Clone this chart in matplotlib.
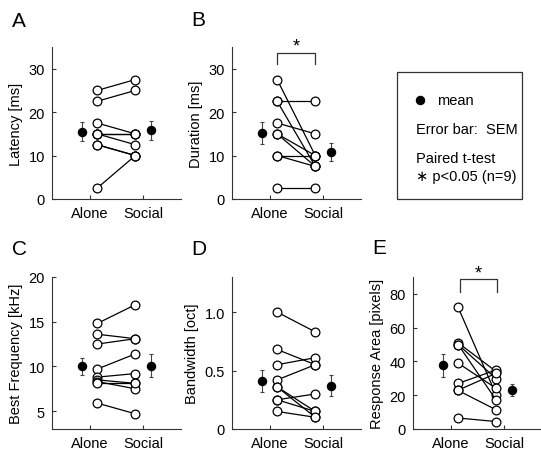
import matplotlib
matplotlib.use("Agg")
import matplotlib.pyplot as plt

plt.rcParams['font.family'] = ['Liberation Sans', 'DejaVu Sans']
plt.rcParams['font.size'] = 10.5

# paired values per unit (alone, social)
lat_alone = [25, 22.5, 17.5, 15, 15, 15, 12.5, 12.5, 2.5]
lat_social = [27.5, 25, 15, 15, 15, 12.5, 10, 10, 10]
lat_mean = [15.5, 15.8]
lat_sem = [2.2, 2.1]

dur_alone = [27.5, 22.5, 22.5, 17.5, 15, 15, 10, 10, 2.5]
dur_social = [10, 22.5, 7.5, 15, 7.5, 10, 10, 7.5, 2.5]
dur_mean = [15.2, 10.8]
dur_sem = [2.6, 2.0]

bf_alone = [14.8, 13.6, 12.5, 9.7, 8.8, 8.5, 8.3, 8.1, 5.9]
bf_social = [16.9, 13.1, 13.1, 11.4, 9.2, 8.1, 7.5, 8.1, 4.7]
bf_mean = [10.0, 10.1]
bf_sem = [0.95, 1.3]

bw_alone = [1.0, 0.68, 0.55, 0.42, 0.36, 0.36, 0.25, 0.25, 0.15]
bw_social = [0.83, 0.55, 0.61, 0.55, 0.15, 0.10, 0.30, 0.15, 0.10]
bw_mean = [0.41, 0.37]
bw_sem = [0.095, 0.09]

ra_alone = [72, 51, 50, 50, 39, 27, 23, 22.8, 6.5]
ra_social = [20, 34, 29.7, 17, 24, 35, 33, 11.3, 4.4]
ra_mean = [37.6, 23.0]
ra_sem = [7.0, 3.4]

groups = ["Alone", "Social"]

W, H = 541, 452
fig = plt.figure(figsize=(W / 100, H / 100), dpi=100)

def make_ax(left, top, bottom):
    return fig.add_axes([left / W, (H - bottom) / H, 129 / W, (bottom - top) / H])

def panel(ax, alone, social, mean, sem, ylim, yticks, ylabel, yticklabels=None):
    for a, s in zip(alone, social):
        ax.plot([1.14, 1.85], [a, s], color='black', lw=0.9,
                marker='o', ms=6.3, mfc='white', mec='black', mew=0.9, zorder=3)
    ax.errorbar([0.85, 2.15], mean, yerr=sem, fmt='o', color='black', ms=5.8,
                ecolor='#444444', elinewidth=0.8, capsize=1.5, capthick=0.8, zorder=4)
    ax.set_xlim(0.3, 2.7)
    ax.set_ylim(*ylim)
    ax.set_xticks([1, 2])
    ax.set_xticklabels(groups)
    ax.set_yticks(yticks)
    if yticklabels is not None:
        ax.set_yticklabels(yticklabels)
    ax.set_ylabel(ylabel)
    for side in ['top', 'right']:
        ax.spines[side].set_visible(False)
    for side in ['left', 'bottom']:
        ax.spines[side].set_color('#333333')
        ax.spines[side].set_linewidth(0.8)
    ax.tick_params(direction='in', length=3, width=0.8, color='#333333', pad=5)

def bracket(ax, x0, x1, ytop, ybot, ystar):
    ax.plot([x0, x0, x1, x1], [ybot, ytop, ytop, ybot], color='#333333', lw=0.9, clip_on=False)
    ax.text((x0 + x1) / 2, ystar, "*", ha='center', va='center', fontsize=13, clip_on=False)

axA = make_ax(52, 48, 200)
panel(axA, lat_alone, lat_social, lat_mean, lat_sem, (0, 35), [0, 10, 20, 30], "Latency [ms]")

axB = make_ax(232, 48, 200)
panel(axB, dur_alone, dur_social, dur_mean, dur_sem, (0, 35), [0, 10, 20, 30], "Duration [ms]")
bracket(axB, 1.14, 1.85, 33.7, 31.0, 35.2)

axC = make_ax(52, 278, 430)
panel(axC, bf_alone, bf_social, bf_mean, bf_sem, (3, 20), [5, 10, 15, 20], "Best Frequency [kHz]")

axD = make_ax(232, 278, 430)
panel(axD, bw_alone, bw_social, bw_mean, bw_sem, (0, 1.3), [0, 0.5, 1.0], "Bandwidth [oct]",
      ["0", "0.5", "1.0"])

axE = make_ax(413, 278, 430)
panel(axE, ra_alone, ra_social, ra_mean, ra_sem, (0, 90), [0, 20, 40, 60, 80], "Response Area [pixels]")
bracket(axE, 1.17, 1.86, 88.7, 81.4, 92.5)

# panel letters
for lab, x, y in [("A", 12, 12), ("B", 191, 11), ("C", 12, 240), ("D", 191, 240), ("E", 372, 239)]:
    fig.text(x / W, 1 - y / H, lab, fontsize=15, va='top', ha='left')

# legend box
box = plt.Rectangle((397 / W, 1 - 200 / H), 125 / W, 127 / H, transform=fig.transFigure,
                    fill=False, edgecolor='#333333', lw=0.9)
fig.add_artist(box)
fig.add_artist(plt.Line2D([420 / W], [1 - 101 / H], transform=fig.transFigure,
                          marker='o', ms=5.8, color='black', ls='none'))
fig.text(437 / W, 1 - 101 / H, "mean", fontsize=10.5, va='center')
fig.text(416 / W, 1 - 130 / H, "Error bar:  SEM", fontsize=10.5, va='center')
fig.text(416 / W, 1 - 159 / H, "Paired t-test", fontsize=10.5, va='center')
fig.text(416 / W, 1 - 177 / H, "\u2217 p<0.05 (n=9)", fontsize=10.5, va='center')

fig.savefig("out.png", dpi=100)
